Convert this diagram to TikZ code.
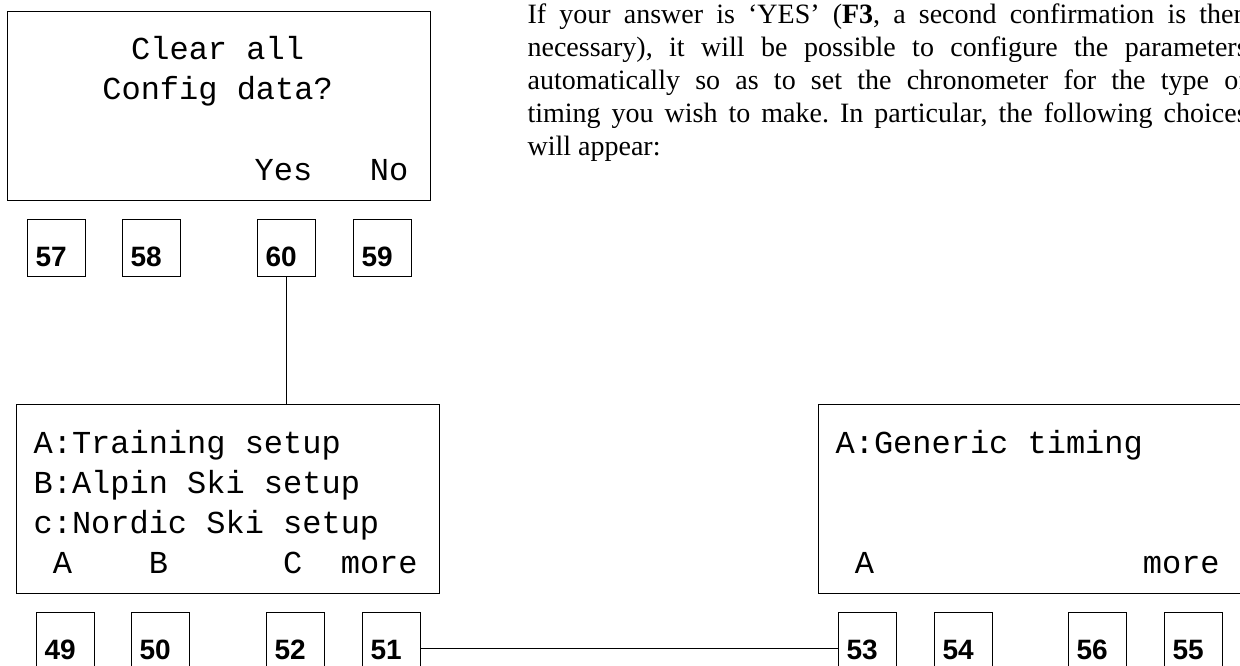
\documentclass[tikz,border=0pt]{standalone}
\usepackage{fontspec}
\setmainfont{Liberation Serif}
\setsansfont{Liberation Sans}
\setmonofont{Liberation Mono}

\begin{document}
\begin{tikzpicture}[x=1pt, y=-1pt, line width=1.2pt]
	% Stili degli schermi, delle righe e dei tasti
	\tikzset{
		schermo/.style={draw, anchor=north west, minimum width=423pt, minimum height=189pt, inner sep=0pt},
		riga/.style={font=\ttfamily\fontsize{32}{40}\selectfont, inner sep=0pt, anchor=base west},
		numero/.style={font=\sffamily\bfseries\fontsize{28}{28}\selectfont, inner sep=0pt, anchor=base west, xshift=8pt, yshift=11pt},
		tasto/.style={draw, anchor=north west, minimum width=58pt, minimum height=57pt, inner sep=0pt,
			label={[numero, name=n#1]south west:#1}},
		testo/.style={anchor=north west, text width=720pt, align=justify, inner sep=0pt, font=\fontsize{28}{33}\selectfont}
	}
	
	% Area della figura
	\path[use as bounding box, fill=white] (0,0) rectangle (1240,666);
	
	% Testo a destra
	\node[testo] (par) at (527,3.6) {\noindent\frenchspacing If your answer is ‘YES’ (\textbf{F3}, a second confirmation is then\linebreak
		necessary), it will be possible to configure the parameters\linebreak
		automatically so as to set the chronometer for the type of\linebreak
		timing you wish to make. In particular, the following choices\linebreak
		will appear:};
	
	% Schermo in alto
	\node[schermo] (lcdA) at (7,11) {};
	\node[riga, anchor=base] (a1) at ([xshift=-1.5pt,yshift=-49pt]lcdA.north) {Clear all};
	\node[riga, anchor=base] (a2) at ([xshift=-1.5pt,yshift=-89pt]lcdA.north) {Config data?};
	\node[riga] (a4) at ([xshift=247pt,yshift=-169pt]lcdA.north west) {Yes~~~No};
	
	\node[tasto=57] (b57) at (27,219) {};
	\node[tasto=58] (b58) at (122,219) {};
	\node[tasto=60] (b60) at (257,219) {};
	\node[tasto=59] (b59) at (353,219) {};
	
	% Schermo in basso a sinistra
	\node[schermo] (lcdB) at (16,404) {};
	\node[riga] (b1) at ([xshift=17pt,yshift=-49pt]lcdB.north west) {A:Training setup};
	\node[riga] (b2) at ([xshift=17pt,yshift=-89pt]lcdB.north west) {B:Alpin Ski setup};
	\node[riga] (b3) at ([xshift=17pt,yshift=-129pt]lcdB.north west) {c:Nordic Ski setup};
	\node[riga] (b4) at ([xshift=17pt,yshift=-169pt]lcdB.north west) {~A~~~~B~~~~~~C~~more};
	
	\node[tasto=49] (b49) at (36,612) {};
	\node[tasto=50] (b50) at (131,612) {};
	\node[tasto=52] (b52) at (266,612) {};
	\node[tasto=51] (b51) at (362,612) {};
	
	% Schermo in basso a destra
	\node[schermo, minimum width=426pt] (lcdC) at (818,404) {};
	\node[riga] (c1) at ([xshift=17pt,yshift=-49pt]lcdC.north west) {A:Generic timing};
	\node[riga] (c4) at ([xshift=17pt,yshift=-169pt]lcdC.north west) {~A~~~~~~~~~~~~~~more};
	
	\node[tasto=53] (b53) at (838,612) {};
	\node[tasto=54] (b54) at (934,612) {};
	\node[tasto=56] (b56) at (1068,612) {};
	\node[tasto=55] (b55) at (1164,612) {};
	
	% Collegamenti
	\draw (b60.south) -- (b60.south |- lcdB.north);
	\draw ([yshift=-7.5pt]b51.east) -- ([yshift=-7.5pt]b53.west);
\end{tikzpicture}
\end{document}
